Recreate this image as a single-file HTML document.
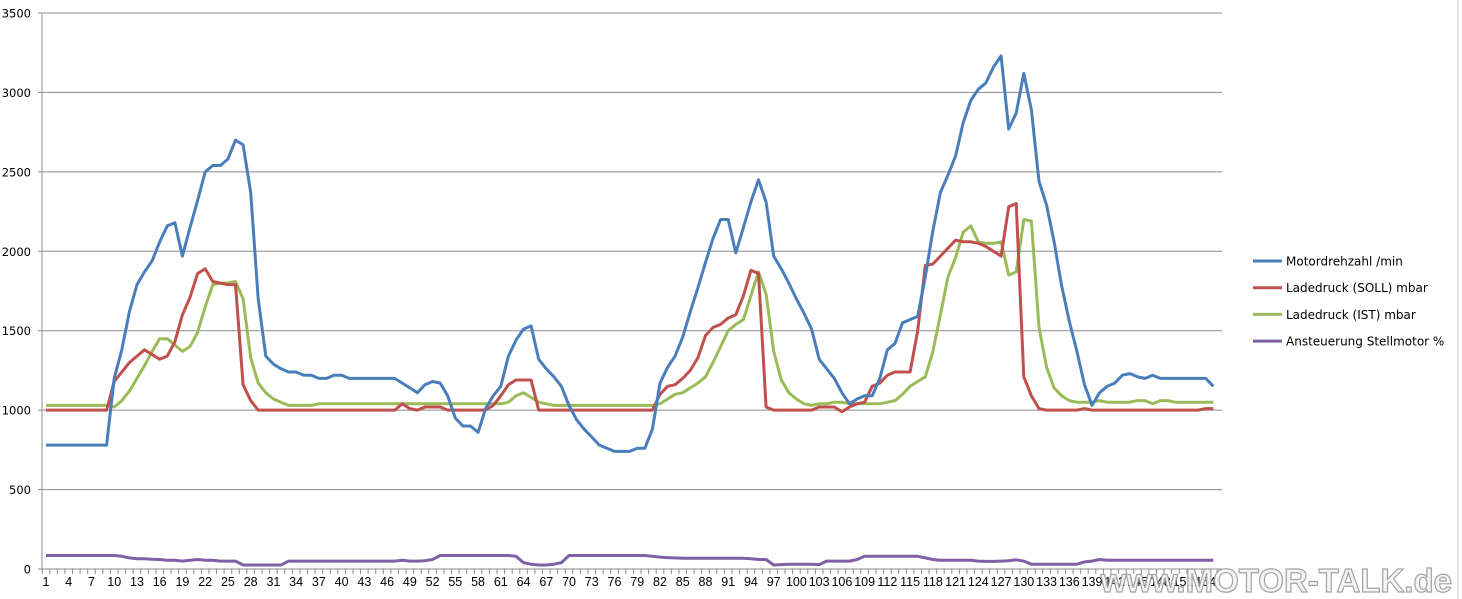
<!DOCTYPE html>
<html><head><meta charset="utf-8"><style>
html,body{margin:0;padding:0;background:#fff;}
svg{display:block;font-family:"DejaVu Sans","Liberation Sans",sans-serif;}
</style></head><body>
<svg id="c" width="1462" height="599" xmlns="http://www.w3.org/2000/svg"></svg>
<script>
const svg=document.getElementById('c');
const X0=42,X1=1222,Y0=569,YT=13;
const y=v=>Y0-(v/3500)*(Y0-YT);
const x=i=>46+(i-1)*7.58;
let h='';
for(let k=0;k<=7;k++){const yy=y(k*500);
 if(k>0)h+=`<line x1="${X0}" y1="${yy}" x2="${X1}" y2="${yy}" stroke="#8c8c8c" stroke-width="1"/>`;
 h+=`<text x="31" y="${yy+4.5}" font-size="11.5" text-anchor="end" fill="#000">${k*500}</text>`;
 h+=`<line x1="${X0-4}" y1="${yy}" x2="${X0}" y2="${yy}" stroke="#8c8c8c"/>`;}
h+=`<line x1="${X0}" y1="${YT}" x2="${X0}" y2="${Y0}" stroke="#8c8c8c"/>`;
h+=`<line x1="${X0}" y1="${Y0}" x2="${X1}" y2="${Y0}" stroke="#8c8c8c"/>`;
for(let i=0;i<=155;i++){const xx=x(i)+3.79;h+=`<line x1="${xx}" y1="${Y0}" x2="${xx}" y2="${Y0+5}" stroke="#8c8c8c"/>`;}
for(let i=1;i<=154;i+=3)h+=`<text x="${x(i)}" y="${Y0+17}" font-size="12.5" font-family="Liberation Sans,sans-serif" text-anchor="middle">${i}</text>`;
function exp(spec){const a=[];spec.forEach(s=>{if(Array.isArray(s)){for(let k=0;k<s[1];k++)a.push(s[0]);}else a.push(s);});return a;}
const blue=exp([[780,9],1200,1380,1620,1790,1870,1940,2060,2160,2180,1970,2150,2320,2500,2540,2540,2580,2700,2670,2370,1700,1340,1290,1260,1240,1240,1220,1220,1200,1200,1220,1220,[1200,7],1170,1140,1110,1160,1180,1170,1090,950,900,900,860,1010,1090,1150,1340,1440,1510,1530,1320,1260,1210,1150,1030,940,880,830,780,760,740,740,740,760,760,880,1170,1270,1340,1460,1620,1770,1930,2080,2200,2200,1990,2150,2310,2450,2310,1970,1890,1800,1700,1610,1510,1320,1260,1200,1110,1040,1070,1090,1090,1200,1380,1420,1550,1570,1590,1840,2130,2370,2480,2600,2810,2950,3020,3060,3160,3230,2770,2870,3120,2890,2440,2290,2060,1780,1560,1370,1160,1030,1110,1150,1170,1220,1230,1210,1200,1220,1200,[1200,6],1150]);
const red=exp([[1000,9],1180,1240,1300,1340,1380,1350,1320,1340,1430,1600,1710,1860,1890,1810,1800,1790,1790,1160,1060,[1000,19],1040,1010,1000,1020,1020,1020,[1000,6],1030,1090,1160,1190,1190,1190,[1000,16],1100,1150,1160,1200,1250,1330,1470,1520,1540,1580,1600,1720,1880,1860,1020,[1000,6],1020,1020,1020,990,1020,1040,1050,1150,1170,1220,1240,1240,1240,1500,1910,1920,1970,2020,2070,2060,2060,2050,2030,2000,1970,2280,2300,1210,1090,1010,[1000,5],1010,[1000,15],1010,1010]);
const green=exp([[1030,9],1020,1060,1120,1200,1280,1370,1450,1450,1410,1370,1400,1490,1650,1790,1800,1800,1810,1700,1330,1170,1110,1070,1050,[1030,4],[1040,25],1050,1090,1110,1080,1050,1040,[1030,14],1040,1070,1100,1110,1140,1170,1210,1300,1400,1500,1540,1570,1720,1870,1730,1370,1190,1110,1070,1040,1030,1040,1040,1050,1050,[1040,5],1050,1060,1100,1150,1180,1210,1370,1600,1840,1960,2120,2160,2060,2050,2050,2060,1850,1870,2200,2190,1520,1270,1140,1090,1060,1050,1050,1050,1060,[1050,4],1060,1060,1040,1060,1060,[1050,6]]);
const purple=exp([[85,10],80,70,65,65,62,60,55,55,50,55,60,55,55,50,50,50,[25,6],[50,15],55,50,50,52,60,[85,10],80,40,30,25,25,30,40,[85,11],80,75,72,70,[68,9],65,60,60,25,28,30,30,30,30,28,[50,4],60,[80,8],70,60,[55,5],50,48,48,50,52,58,50,[30,7],45,50,60,[55,15]]);
function line(d,c){return `<polyline fill="none" stroke="${c}" stroke-width="3" stroke-linejoin="round" points="${d.slice(0,155).map((v,i)=>x(i+1).toFixed(1)+','+y(v).toFixed(1)).join(' ')}"/>`;}
h+=line(purple,'#7f5fa6')+line(green,'#9bbb59')+line(red,'#c0504d')+line(blue,'#4a7ebb');
const leg=[['Motordrehzahl /min','#4a7ebb'],['Ladedruck (SOLL)  mbar','#c0504d'],['Ladedruck (IST)  mbar','#9bbb59'],['Ansteuerung Stellmotor %','#7f5fa6']];
leg.forEach((l,k)=>{const yy=261+k*26.7;h+=`<line x1="1253" y1="${yy}" x2="1282" y2="${yy}" stroke="${l[1]}" stroke-width="3"/><text x="1286" y="${yy+4.5}" font-size="12">${l[0]}</text>`;});
h+=`<line x1="1458" y1="0" x2="1458" y2="599" stroke="#c8d0dc"/>`;
h+=`<text x="1452" y="592" font-size="33" font-weight="bold" text-anchor="end" fill="#f4f4f4" stroke="#9a9a9a" stroke-width="1.2" font-family="Liberation Sans,sans-serif" opacity="0.9">www.MOTOR-TALK.de</text>`;
svg.innerHTML=h;
</script>
</body></html>
